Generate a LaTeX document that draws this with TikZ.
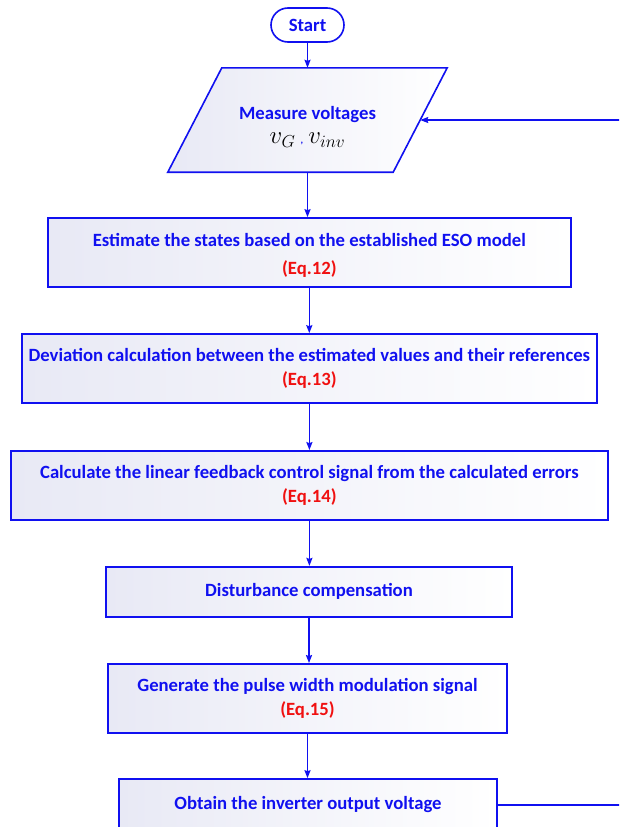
\documentclass[tikz,border=0pt]{standalone}
\usepackage{fontspec}
\setmainfont{Carlito}
\usetikzlibrary{arrows.meta,backgrounds}

\begin{document}
\begin{tikzpicture}[x=1pt,y=-1pt,
  every node/.style={font=\fontsize{18.7}{22}\selectfont\bfseries,text=flowblue,align=center,inner sep=0pt},
  procbox/.style={draw=flowblue,line width=1.6pt,left color=boxshade,right color=white},
  flow/.style={draw=flowblue,line width=1.6pt,-{Stealth[length=8pt,width=6pt,inset=1pt]}}]
\definecolor{flowblue}{HTML}{1010F0}
\definecolor{eqred}{HTML}{F01010}
\definecolor{boxshade}{HTML}{E8E9F5}
\useasboundingbox (0,0) rectangle (619,827);
\clip (0,0) rectangle (619,827);
% terminal and input
\node [draw=flowblue,line width=1.6pt,fill=white,rounded corners=17pt,minimum width=73pt,minimum height=34pt] (start) at (307.5,25) {Start};
\node [minimum width=225pt,minimum height=104pt] (meas) at (307.5,120)
  {\rule{0pt}{27pt}Measure voltages\\[2pt]\textcolor{black}{\fontsize{24}{26}\selectfont$v_{G}$}\;\textcolor{flowblue}{\normalsize,}\;\textcolor{black}{\fontsize{24}{26}\selectfont$v_{inv}$}};
\begin{scope}[on background layer]
  \draw [procbox] ([xshift=-27pt]meas.south west) -- ([xshift=27pt]meas.north west)
    -- ([xshift=27pt]meas.north east) -- ([xshift=-27pt]meas.south east) -- cycle;
\end{scope}
% process steps
\node [procbox,minimum width=523pt,minimum height=69pt] (eso) at (309.3,252.5)
  {\rule{0pt}{19pt}Estimate the states based on the established ESO model\\[6pt]\textcolor{eqred}{(Eq.12)}};
\node [procbox,minimum width=575pt,minimum height=69pt] (dev) at (309.4,368.5)
  {Deviation calculation between the estimated values and their references\\[2pt]\textcolor{eqred}{(Eq.13)}};
\node [procbox,minimum width=597pt,minimum height=69pt] (lfc) at (309.4,485.4)
  {Calculate the linear feedback control signal from the calculated errors\\[2pt]\textcolor{eqred}{(Eq.14)}};
\node [procbox,minimum width=406pt,minimum height=50pt] (comp) at (309,591.7)
  {Disturbance compensation};
\node [procbox,minimum width=399pt,minimum height=69pt] (pwm) at (307.5,698.4)
  {Generate the pulse width modulation signal\\[2pt]\textcolor{eqred}{(Eq.15)}};
\node [procbox,minimum width=378pt,minimum height=52pt] (vout) at (308,805)
  {Obtain the inverter output voltage};
% connectors
\foreach \from/\to in {start/meas,meas/eso,eso/dev,dev/lfc,lfc/comp,comp/pwm,pwm/vout}
  {\draw [flow] (\from.south) -- (\from.south |- \to.north);}
\draw [flow] (vout.east) -- (640,805) |- (meas.east);
\end{tikzpicture}
\end{document}
